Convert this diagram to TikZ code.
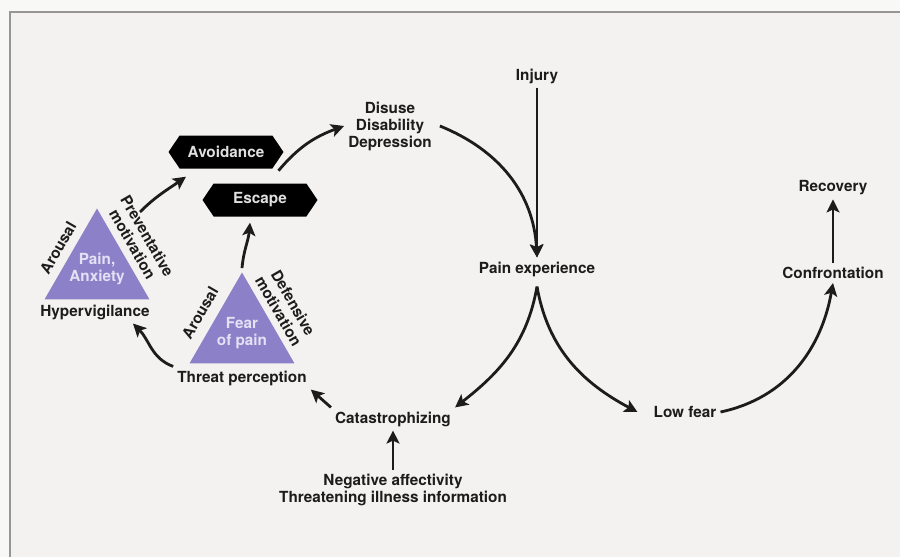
\documentclass[tikz,border=0pt]{standalone}
\usepackage{fontspec}
\setmainfont{TeX Gyre Heros}
\usepackage{tikz}
\usetikzlibrary{arrows.meta,shapes.geometric,shapes.symbols,positioning}

\definecolor{fon}{RGB}{243,242,240}
\definecolor{fonout}{RGB}{248,248,246}
\definecolor{ramka}{RGB}{150,150,150}
\definecolor{lilac}{RGB}{140,128,200}
\definecolor{lilactext}{RGB}{228,225,245}
\definecolor{tekst}{RGB}{28,28,28}

\tikzset{
  lbl/.style={font=\bfseries\fontsize{15.3}{17}\selectfont, text=tekst, align=center, inner sep=4pt},
  hexbox/.style={signal, signal to=east and west, signal pointer angle=112, fill=black,
    text=white!88!black, font=\bfseries\fontsize{15.3}{17}\selectfont,
    minimum width=115pt, minimum height=33pt, inner sep=0pt},
  tri/.style={regular polygon, regular polygon sides=3, fill=lilac, minimum size=121pt, inner sep=0pt},
  tritext/.style={lbl, text=lilactext, inner sep=0pt},
  arr/.style={-{Stealth[length=13pt,width=13pt,inset=3pt]}, line width=2.8pt, draw=tekst},
}

\begin{document}
\begin{tikzpicture}[x=1pt,y=1pt]
\useasboundingbox (0,0) rectangle (900,-557);
% фон и рамка
\fill[fonout] (0,0) rectangle (900,-557);
\fill[fon] (10,-12) rectangle (900,-557);
\draw[ramka, line width=1.5pt] (10,-557) -- (10,-12) -- (900,-12);

% треугольники
\node[tri] (tri1) at (97,-269) {};
\node[tri] (tri2) at (242,-333) {};
\node[tritext] (painanx) at (tri1) {Pain,\\Anxiety};
\node[tritext] (fearpain) at (tri2) {Fear\\of pain};

% подписи у треугольников
\node[lbl, rotate=60] (arousal1) at (58,-248) {Arousal};
\node[lbl, rotate=-60] (prevmot) at (140,-240) {Preventative\\motivation};
\node[lbl, rotate=60] (arousal2) at (200,-313) {Arousal};
\node[lbl, rotate=-60] (defmot) at (286,-307) {Defensive\\motivation};

% шестиугольники
\node[hexbox] (avoid) at (226,-152) {Avoidance};
\node[hexbox] (escape) at (260,-200) {Escape};

% узлы
\node[lbl] (injury) at (537,-76) {Injury};
\node[lbl] (painexp) at (537,-269) {Pain experience};
\node[lbl] (disuse) at (390,-126) {Disuse\\Disability\\Depression};
\node[lbl] (catas) at (393,-419) {Catastrophizing};
\node[lbl] (negaff) at (393,-490) {Negative affectivity\\Threatening illness information};
\node[lbl] (threat) at (242,-378) {Threat perception};
\node[lbl] (hyper) at (95,-312) {Hypervigilance};
\node[lbl] (lowfear) at (685,-412) {Low fear};
\node[lbl] (confront) at (833,-273) {Confrontation};
\node[lbl] (recovery) at (833,-188) {Recovery};
\coordinate (pmstart) at (140,-212);

% стрелки
\draw[arr] (injury.south) -- (painexp.north);
\draw[arr] ([xshift=4pt]disuse.east) to[out=-22,in=93] (painexp.north);
\draw[arr] ([xshift=6pt,yshift=-2pt]avoid.south east) to[out=50,in=200] (disuse.west);
\draw[arr] ([yshift=-6pt]painexp.south) to[out=-100,in=38] (catas.north east);
\draw[arr] ([yshift=-6pt]painexp.south) to[out=-80,in=152] ([xshift=-12pt]lowfear.west);
\draw[arr] (lowfear.east) to[out=12,in=-100] (confront.south);
\draw[arr] (confront.north) -- (recovery.south);
\draw[arr] (negaff.north) -- (catas.south);
\draw[arr] (catas.north west) -- (threat.south east);
\draw[arr] (threat.north west) to[out=160,in=-45] ([xshift=38pt]hyper.south);
\draw[arr] ([yshift=4pt]tri2.corner 1) to[out=85,in=-95] ([xshift=-10pt,yshift=-6pt]escape.south);
\draw[arr] (pmstart) to[out=45,in=215] ([xshift=-40pt,yshift=-8pt]avoid.south);
\end{tikzpicture}
\end{document}
